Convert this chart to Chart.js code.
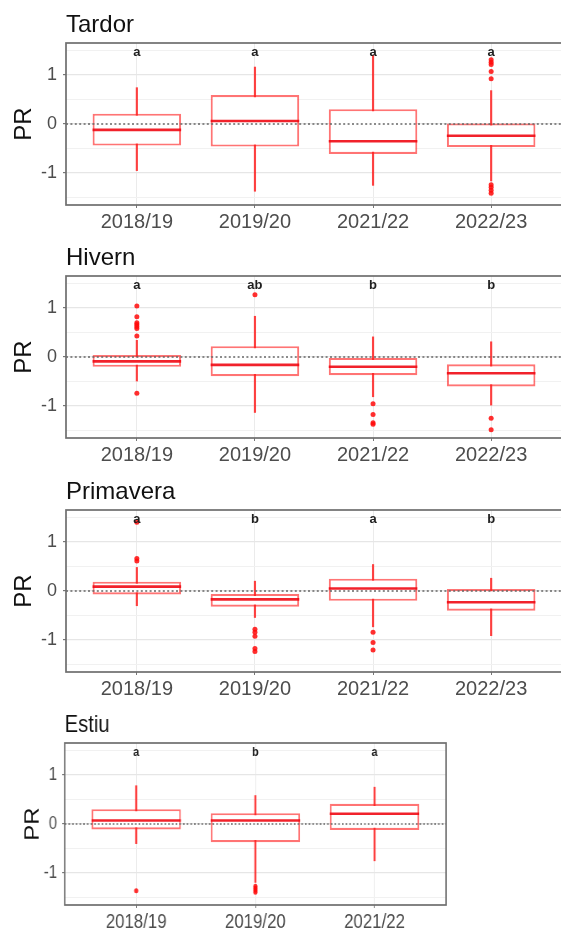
<!DOCTYPE html>
<html>
<head>
<meta charset="utf-8">
<script src="https://cdn.jsdelivr.net/npm/chart.js@4.4.1/dist/chart.umd.min.js"></script>
<style>
  html, body { margin: 0; padding: 0; background: #fff; width: 561px; height: 931px; overflow: hidden; }
  canvas { position: absolute; left: 0; }
  #estiu { transform: scaleX(0.84); transform-origin: 0 0; }
</style>
</head>
<body>
<canvas id="tardor" width="566" height="232" style="top:1px"></canvas>
<canvas id="hivern" width="566" height="232" style="top:234px"></canvas>
<canvas id="primavera" width="566" height="232" style="top:468px"></canvas>
<canvas id="estiu" width="536" height="232" style="top:701px"></canvas>
<script>
// Seasons on the x axis
const seasonsFour = ['2018/19', '2019/20', '2021/22', '2022/23'];
const seasonsThree = ['2018/19', '2019/20', '2021/22'];

// y grid / tick values (labels only on whole numbers)
const yTickValues = [-1.5, -1, -0.5, 0, 0.5, 1, 1.5];

// Tardor
const tardorLow = [-0.95, -1.37, -1.25, -1.16];
const tardorQ1 = [-0.44, -0.46, -0.61, -0.47];
const tardorMedian = [-0.12, 0.06, -0.35, -0.24];
const tardorQ3 = [0.21, 0.59, 0.30, 0.01];
const tardorHigh = [0.74, 1.16, 1.40, 0.68];
const tardorOutliers = [[], [], [], [1.31, 1.26, 1.21, 1.07, 0.92, -1.24, -1.29, -1.35, -1.41]];
const tardorLetters = ['a', 'a', 'a', 'a'];

// Hivern
const hivernLow = [-0.49, -1.13, -0.81, -0.98];
const hivernQ1 = [-0.20, -0.39, -0.37, -0.60];
const hivernMedian = [-0.09, -0.16, -0.20, -0.33];
const hivernQ3 = [0.04, 0.22, -0.02, -0.15];
const hivernHigh = [0.34, 0.83, 0.41, 0.31];
const hivernOutliers = [[1.04, 0.82, 0.70, 0.66, 0.62, 0.58, 0.43, -0.74], [1.27], [-0.95, -1.17, -1.34, -1.37], [-1.25, -1.48]];
const hivernLetters = ['a', 'ab', 'b', 'b'];

// Primavera
const primaveraLow = [-0.30, -0.54, -0.73, -0.91];
const primaveraQ1 = [-0.07, -0.32, -0.20, -0.40];
const primaveraMedian = [0.09, -0.17, 0.05, -0.23];
const primaveraQ3 = [0.19, -0.06, 0.25, 0.04];
const primaveraHigh = [0.48, 0.20, 0.54, 0.26];
const primaveraOutliers = [[1.40, 0.66, 0.61], [-0.78, -0.84, -0.92, -1.17, -1.23], [-0.84, -1.05, -1.20], []];
const primaveraLetters = ['a', 'b', 'a', 'b'];

// Estiu
const estiuLow = [-0.40, -1.19, -0.75];
const estiuQ1 = [-0.11, -0.37, -0.12];
const estiuMedian = [0.07, 0.07, 0.21];
const estiuQ3 = [0.30, 0.22, 0.41];
const estiuHigh = [0.78, 0.58, 0.75];
const estiuOutliers = [[-1.36], [-1.27, -1.31, -1.35, -1.39], []];
const estiuLetters = ['a', 'b', 'a'];

// Panel title, dotted zero line, group letters and panel frame
const panelDecor = {
  id: 'panelDecor',
  afterDatasetsDraw(chart, args, opts) {
    const { ctx, chartArea: a, scales: { x, y } } = chart;
    ctx.save();
    ctx.beginPath();
    ctx.rect(a.left, a.top, a.right - a.left, a.bottom - a.top);
    ctx.clip();
    const y0 = y.getPixelForValue(0);
    ctx.setLineDash([2, 2.4]);
    ctx.strokeStyle = '#666';
    ctx.lineWidth = 1.5;
    ctx.beginPath();
    ctx.moveTo(a.left, y0);
    ctx.lineTo(a.right, y0);
    ctx.stroke();
    ctx.setLineDash([]);
    ctx.fillStyle = '#1e1e1e';
    ctx.font = 'bold 13px "Liberation Sans"';
    ctx.textAlign = 'center';
    ctx.textBaseline = 'middle';
    opts.letters.forEach((t, i) => {
      ctx.fillText(t, x.getPixelForValue(i + 1), y.getPixelForValue(1.45));
    });
    ctx.restore();
  },
  afterDraw(chart, args, opts) {
    const { ctx, chartArea: a } = chart;
    ctx.save();
    ctx.strokeStyle = '#6e6e6e';
    ctx.lineWidth = 1.7;
    ctx.strokeRect(a.left, a.top, a.right - a.left, a.bottom - a.top);
    ctx.fillStyle = '#111';
    ctx.font = '24px "Liberation Sans"';
    ctx.textAlign = 'left';
    ctx.textBaseline = 'alphabetic';
    ctx.fillText(opts.title, a.left, a.top - 11.5);
    ctx.restore();
  }
};

function boxPanel(canvasId, title, cats, low, q1, median, q3, high, outliers, letters, look) {
  const xs = cats.map((_, i) => i + 1);
  const halfBox = chart => {
    const s = chart.scales.x;
    return s ? (s.getPixelForValue(2) - s.getPixelForValue(1)) * 0.375 : 0;
  };
  return new Chart(document.getElementById(canvasId), {
    type: 'bar',
    data: {
      datasets: [
        {
          type: 'scatter',
          data: outliers.flatMap((vals, i) => vals.map(v => ({ x: i + 1, y: v }))),
          pointStyle: 'circle',
          pointRadius: 2.5,
          backgroundColor: 'rgba(255,10,10,0.85)',
          borderWidth: 0,
          order: 0
        },
        {
          type: 'scatter',
          data: xs.map((x, i) => ({ x, y: median[i] })),
          pointStyle: 'line',
          pointRadius: ctx => halfBox(ctx.chart),
          borderColor: 'rgba(240,10,20,0.9)',
          borderWidth: 2.6,
          order: 1
        },
        {
          type: 'bar',
          data: xs.map((x, i) => ({ x, y: [q1[i], q3[i]] })),
          backgroundColor: '#ffffff',
          borderColor: 'rgba(255,30,30,0.62)',
          borderWidth: 2.1,
          borderSkipped: false,
          grouped: false,
          barPercentage: 0.75,
          categoryPercentage: 1,
          order: 2
        },
        {
          type: 'bar',
          data: xs.map((x, i) => ({ x, y: [low[i], high[i]] })),
          backgroundColor: 'rgba(255,20,20,0.8)',
          borderWidth: 0,
          grouped: false,
          barThickness: look.whisker,
          maxBarThickness: look.whisker,
          order: 3
        }
      ]
    },
    options: {
      responsive: false,
      animation: false,
      events: [],
      layout: { padding: { top: 42, right: look.padRight, left: 0, bottom: 0 } },
      plugins: {
        legend: { display: false },
        tooltip: { enabled: false },
        panelDecor: { title, letters }
      },
      scales: {
        x: {
          type: 'linear',
          min: 0.4,
          max: cats.length + 0.6,
          offset: false,
          afterBuildTicks: s => { s.ticks = xs.map(v => ({ value: v })); },
          afterFit: s => { s.height = 28; },
          ticks: {
            callback: v => cats[v - 1] ?? '',
            font: { family: 'Liberation Sans', size: 20 },
            color: '#4d4d4d',
            padding: 2,
            maxRotation: 0,
            autoSkip: false
          },
          grid: { color: '#ebebeb', lineWidth: 1, tickLength: 3, tickColor: '#777', offset: false },
          border: { display: false }
        },
        y: {
          min: -1.65,
          max: 1.65,
          afterBuildTicks: s => { s.ticks = yTickValues.map(v => ({ value: v })); },
          afterFit: s => { s.width = look.axisWidth; },
          ticks: {
            callback: v => Number.isInteger(v) ? String(v) : '',
            font: { family: 'Liberation Sans', size: 18 },
            color: '#4d4d4d',
            padding: 6
          },
          grid: {
            color: c => Number.isInteger(c.tick.value) ? '#e6e6e6' : '#f1f1f1',
            lineWidth: c => Number.isInteger(c.tick.value) ? 1.2 : 1,
            tickLength: 3,
            tickColor: c => Number.isInteger(c.tick.value) ? '#777' : 'rgba(0,0,0,0)'
          },
          border: { display: false },
          title: {
            display: true,
            text: 'PR',
            font: { family: 'Liberation Sans', size: 24 },
            color: '#111',
            padding: { top: look.prPad, bottom: 0 }
          }
        }
      }
    },
    plugins: [panelDecor]
  });
}

// The Estiu canvas is drawn wider and shown compressed horizontally
const wideLook = { axisWidth: 66, padRight: 3, prPad: 10, whisker: 1.5 };
const narrowLook = { axisWidth: 77, padRight: 5, prPad: 25, whisker: 1.8 };

boxPanel('tardor', 'Tardor', seasonsFour, tardorLow, tardorQ1, tardorMedian, tardorQ3, tardorHigh, tardorOutliers, tardorLetters, wideLook);
boxPanel('hivern', 'Hivern', seasonsFour, hivernLow, hivernQ1, hivernMedian, hivernQ3, hivernHigh, hivernOutliers, hivernLetters, wideLook);
boxPanel('primavera', 'Primavera', seasonsFour, primaveraLow, primaveraQ1, primaveraMedian, primaveraQ3, primaveraHigh, primaveraOutliers, primaveraLetters, wideLook);
boxPanel('estiu', 'Estiu', seasonsThree, estiuLow, estiuQ1, estiuMedian, estiuQ3, estiuHigh, estiuOutliers, estiuLetters, narrowLook);
</script>
</body>
</html>
